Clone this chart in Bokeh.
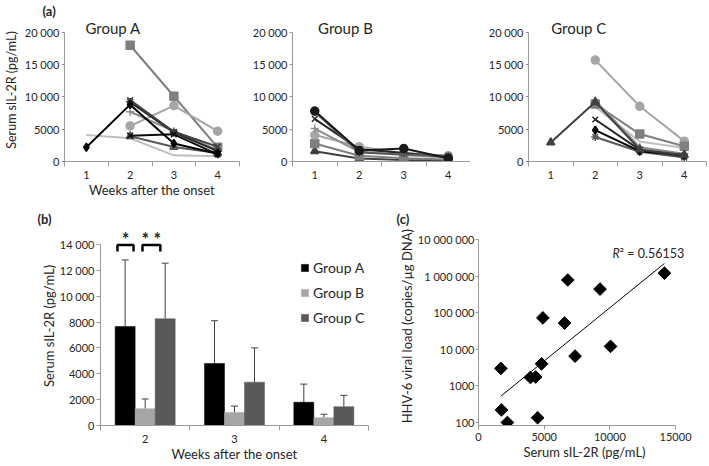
import numpy as np
from bokeh.plotting import figure
from bokeh.layouts import row, column
from bokeh.models import (ColumnDataSource, FixedTicker, Label, Legend, LegendItem,
                          Whisker, TeeHead, Range1d, CustomJSTickFormatter)
from bokeh.transform import dodge
from bokeh.embed import file_html
from bokeh.resources import INLINE

FONT = "Lato"
TXT = "#262626"
AX = "#9a9a9a"
nan = float("nan")

# ---------------- data: panel (a) ----------------
weeks = [1, 2, 3, 4]
week_labels = ["1", "2", "3", "4"]

a_square = [nan, 18000, 10100, 2200]
a_circle = [nan, 5500, 8650, 4700]
a_diamond = [2200, 8800, 2800, 1200]
a_x1 = [nan, 9500, 4600, 2300]
a_plus = [nan, 7700, 4700, 1800]
a_x2 = [nan, 4000, 4200, 1100]
a_triangle = [nan, 3900, 2250, 1300]
a_line = [4100, 3600, 950, 800]
a_asterisk = [nan, 9200, 4500, 1600]

b_dot = [7800, 1700, 2000, 500]
b_asterisk = [7700, 1400, 1100, 900]
b_x = [6600, 1900, 1300, 700]
b_plus = [5100, 1500, 1000, 600]
b_circle = [4100, 2300, 1300, 900]
b_square = [2800, 900, 500, 300]
b_triangle = [1600, 450, 250, 200]

c_circle = [nan, 15700, 8550, 3150]
c_triangle = [2950, 9200, 1850, 1000]
c_plus = [nan, 9450, 2200, 1200]
c_line = [nan, 8450, 3100, 2100]
c_square = [nan, 8900, 4250, 2350]
c_x = [nan, 6500, 1800, 800]
c_diamond = [nan, 4850, 1600, 1000]
c_asterisk = [nan, 3800, 1500, 600]

a_ticks = [0, 5000, 10000, 15000, 20000]

# ---------------- data: panel (b) ----------------
bar_weeks = [2, 3, 4]
bar_labels = ["2", "3", "4"]
mean_a = [7650, 4800, 1800]
err_a = [5150, 3300, 1400]
mean_b = [1300, 1000, 600]
err_b = [750, 500, 270]
mean_c = [8250, 3350, 1450]
err_c = [4300, 2650, 880]
b_ticks = [0, 2000, 4000, 6000, 8000, 10000, 12000, 14000]
sig_left = [1.69, 1.97]
sig_right = [1.87, 2.17]
sig_top = 13950
sig_foot = 13450
sig_text = ["*", "* *"]

# ---------------- data: panel (c) ----------------
sil2r = [1700, 1750, 2200, 3950, 4350, 4500, 4800, 4900, 6550, 6800, 7350, 9250, 10050, 14150]
viral = [3000, 220, 100, 1700, 1750, 135, 4000, 72000, 52000, 780000, 6500, 440000, 12000, 1200000]
c_xticks = [0, 5000, 10000, 15000]
c_yticks = [100, 1000, 10000, 100000, 1000000, 10000000]
r2_text = "0.56153"

SPACE_FMT = CustomJSTickFormatter(code=r"""
const s = Math.round(tick).toString();
return s.length > 4 ? s.replace(/\B(?=(\d{3})+(?!\d))/g, ' ') : s;
""")
PLAIN_FMT = CustomJSTickFormatter(code="return Math.round(tick).toString();")


def style(p):
    for ax in p.below + p.left:
        ax.axis_line_color = AX
        ax.major_tick_line_color = AX
        ax.minor_tick_line_color = AX
        ax.major_label_text_font = FONT
        ax.major_label_text_font_size = "11px"
        ax.major_label_text_color = TXT
        ax.axis_label_text_font = FONT
        ax.axis_label_text_font_size = "13px"
        ax.axis_label_text_font_style = "normal"
        ax.axis_label_text_color = TXT
    p.grid.visible = False
    p.outline_line_color = None


def panel_title(p, text, offset):
    p.title.text = text
    p.title.align = "left"
    p.title.offset = offset
    p.title.standoff = 0
    p.title.text_font = FONT
    p.title.text_font_size = "13px"
    p.title.text_font_style = "bold"
    p.title.text_color = TXT


# top row: frame top at 17px, y=20000 at 31px, y=0 at 162px
TOP_END = 20000 * (162 - 17) / (162 - 31)


def line_panel(title, series, width, left, right, title_x, ylabel=None, xlabel=None):
    p = figure(width=width, height=200, x_range=Range1d(0.5, 4.5), y_range=Range1d(0, TOP_END),
               output_backend="svg", toolbar_location=None,
               min_border_left=left, min_border_right=right, min_border_top=17, min_border_bottom=38)
    style(p)
    xa = p.xaxis[0]
    xa.ticker = FixedTicker(ticks=weeks, minor_ticks=[0.5, 1.5, 2.5, 3.5, 4.5])
    xa.major_tick_in = 0
    xa.major_tick_out = 0
    xa.minor_tick_in = 0
    xa.minor_tick_out = 5
    xa.major_label_standoff = 4
    xa.major_label_overrides = {w: l for w, l in zip(weeks, week_labels)}
    ya = p.yaxis[0]
    ya.ticker = FixedTicker(ticks=a_ticks)
    ya.bounds = (0, 20000)
    ya.formatter = SPACE_FMT
    ya.major_tick_in = 0
    ya.major_tick_out = 3
    ya.major_label_standoff = 2
    if ylabel:
        ya.axis_label = ylabel
        ya.axis_label_standoff = 3
        ya.axis_label_text_font_size = "12.5px"
    if xlabel:
        xa.axis_label = xlabel
        xa.axis_label_standoff = 0
    for vals, marker, color in series:
        p.line(weeks, vals, line_color=color, line_width=2)
        if marker:
            p.scatter(weeks, vals, marker=marker, size=8, fill_color=color,
                      line_color=color, line_width=1.5)
    p.add_layout(Label(x=title_x, y=20610, text=title, text_font=FONT, text_font_size="15px",
                       text_color=TXT, text_align="center", text_baseline="middle"))
    return p


series_a = [(a_line, None, "#bfbfbf"), (a_square, "square", "#7f7f7f"),
            (a_circle, "circle", "#a6a6a6"), (a_plus, "cross", "#8c8c8c"),
            (a_triangle, "triangle", "#595959"), (a_asterisk, "asterisk", "#262626"),
            (a_x1, "x", "#404040"), (a_x2, "x", "#0d0d0d"), (a_diamond, "diamond", "#000000")]
series_b = [(b_triangle, "triangle", "#404040"), (b_square, "square", "#7f7f7f"),
            (b_circle, "circle", "#a6a6a6"), (b_plus, "cross", "#8c8c8c"),
            (b_x, "x", "#262626"), (b_asterisk, "asterisk", "#595959"),
            (b_dot, "circle", "#1a1a1a")]
series_c = [(c_line, None, "#bfbfbf"), (c_circle, "circle", "#a6a6a6"),
            (c_square, "square", "#7f7f7f"), (c_plus, "cross", "#8c8c8c"),
            (c_asterisk, "asterisk", "#595959"), (c_diamond, "diamond", "#000000"),
            (c_x, "x", "#262626"), (c_triangle, "triangle", "#404040")]

pa = line_panel("Group A", series_a, 240, 59, 1, 1.61,
                ylabel="Serum sIL-2R (pg/mL)", xlabel="Weeks after the onset")
panel_title(pa, "(a)", -22)
pb_line = line_panel("Group B", series_b, 230, 52, 0, 1.69)
pc_line = line_panel("Group C", series_c, 238, 58, 2, 1.63)

# ---------------- panel (b) ----------------
# frame top at 226px (page), y=14000 at 244px, y=0 at 426px
BAR_END = 14000 * (426 - 226) / (426 - 244)
BW = 0.224
src = ColumnDataSource(dict(week=bar_weeks, a=mean_a, b=mean_b, c=mean_c,
                            ua=[m + e for m, e in zip(mean_a, err_a)],
                            ub=[m + e for m, e in zip(mean_b, err_b)],
                            uc=[m + e for m, e in zip(mean_c, err_c)]))
pbar = figure(width=395, height=264, x_range=Range1d(1.5, 4.5), y_range=Range1d(0, BAR_END),
              output_backend="svg", toolbar_location=None,
              min_border_left=100, min_border_right=27, min_border_top=26, min_border_bottom=38)
style(pbar)
panel_title(pbar, "(b)", -63)
xa = pbar.xaxis[0]
xa.ticker = FixedTicker(ticks=bar_weeks, minor_ticks=[1.5, 2.5, 3.5, 4.5])
xa.major_tick_in = 0
xa.major_tick_out = 0
xa.minor_tick_in = 0
xa.minor_tick_out = 5
xa.major_label_standoff = 4
xa.major_label_overrides = {w: l for w, l in zip(bar_weeks, bar_labels)}
xa.axis_label = "Weeks after the onset"
xa.axis_label_standoff = 0
ya = pbar.yaxis[0]
ya.ticker = FixedTicker(ticks=b_ticks)
ya.bounds = (0, 14000)
ya.formatter = SPACE_FMT
ya.major_tick_in = 0
ya.major_tick_out = 4
ya.major_label_standoff = 2
ya.axis_label = "Serum sIL-2R (pg/mL)"
ya.axis_label_standoff = 0

cols = {"a": "#000000", "b": "#a6a6a6", "c": "#595959"}
offs = {"a": -BW, "b": 0.0, "c": BW}
rends = {}
for k in ["a", "b", "c"]:
    rends[k] = pbar.vbar(x=dodge("week", offs[k], range=pbar.x_range), top=k, width=BW,
                         source=src, fill_color=cols[k], line_color=cols[k], line_width=0.5)
    pbar.add_layout(Whisker(source=src, base=dodge("week", offs[k], range=pbar.x_range),
                            upper="u" + k, lower=k, dimension="height",
                            line_color="#404040", line_width=1,
                            upper_head=TeeHead(size=7, line_color="#404040", line_width=1),
                            lower_head=None))

pbar.multi_line(xs=[[l, l, r, r] for l, r in zip(sig_left, sig_right)],
                ys=[[sig_foot, sig_top, sig_top, sig_foot] for _ in sig_left],
                line_color="black", line_width=2.5)
for l, r, t in zip(sig_left, sig_right, sig_text):
    pbar.add_layout(Label(x=(l + r) / 2, y=14450, text=t, text_font=FONT, text_font_size="18px",
                          text_font_style="bold", text_color=TXT, text_align="center",
                          text_baseline="middle"))

legend = Legend(items=[LegendItem(label="Group A", renderers=[rends["a"]]),
                       LegendItem(label="Group B", renderers=[rends["b"]]),
                       LegendItem(label="Group C", renderers=[rends["c"]])],
                location=(200, 99), glyph_width=9, glyph_height=9, label_standoff=4,
                spacing=8, padding=0, margin=0, border_line_color=None,
                background_fill_alpha=0, label_text_font=FONT, label_text_font_size="14px",
                label_text_color=TXT, label_height=17)
pbar.add_layout(legend)

# ---------------- panel (c) ----------------
# frame: x 477..690px (0 at 477, 15000 at 675); y: 1e7 at 239, 100 at 423,
# frame bottom at 426 so the lowest markers are less cut off
DEC = (423 - 239) / 5.0
SC_XEND = 15000 * (690 - 477) / (675 - 477)
SC_YEND = 10 ** (7 + (239 - 226) / DEC)
SC_YSTART = 10 ** (2 - (426 - 423) / DEC)
psc = figure(width=313, height=264, x_range=Range1d(0, SC_XEND),
             y_range=Range1d(SC_YSTART, SC_YEND),
             y_axis_type="log", output_backend="svg", toolbar_location=None,
             min_border_left=82, min_border_right=18, min_border_top=26, min_border_bottom=38)
style(psc)
panel_title(psc, "(c)", -82)
xa = psc.xaxis[0]
xa.ticker = FixedTicker(ticks=c_xticks)
xa.bounds = (0, 15000)
xa.formatter = PLAIN_FMT
xa.major_tick_in = 0
xa.major_tick_out = 4
xa.major_label_standoff = 3
xa.axis_label = "Serum sIL-2R (pg/mL)"
xa.axis_label_standoff = 0
ya = psc.yaxis[0]
ya.ticker = FixedTicker(ticks=c_yticks, minor_ticks=[])
ya.bounds = (SC_YSTART, 1e7)
ya.formatter = SPACE_FMT
ya.major_tick_in = 0
ya.major_tick_out = 3
ya.major_label_standoff = 1
ya.axis_label = "HHV-6 viral load (copies/\u00b5g DNA)"
ya.axis_label_standoff = 0

slope, icpt = np.polyfit(np.array(sil2r, float), np.log10(np.array(viral, float)), 1)
fx = np.array([min(sil2r), max(sil2r)], float)
psc.line(fx, 10 ** (icpt + slope * fx), line_color="black", line_width=1)
psc.scatter(sil2r, viral, marker="square", angle=np.pi / 4, size=9,
            fill_color="black", line_color="black")
psc.add_layout(Label(x=10760, y=4.2e6, text="R", text_font=FONT, text_font_size="12.5px",
                     text_font_style="italic", text_color=TXT, text_align="right",
                     text_baseline="middle"))
psc.add_layout(Label(x=10760, y=4.2e6, text="\u00b2 = " + r2_text, text_font=FONT,
                     text_font_size="12.5px", text_color=TXT, text_align="left",
                     text_baseline="middle"))

layout = column(row(pa, pb_line, pc_line), row(pbar, psc))
open("out.html", "w").write(file_html(layout, INLINE))
